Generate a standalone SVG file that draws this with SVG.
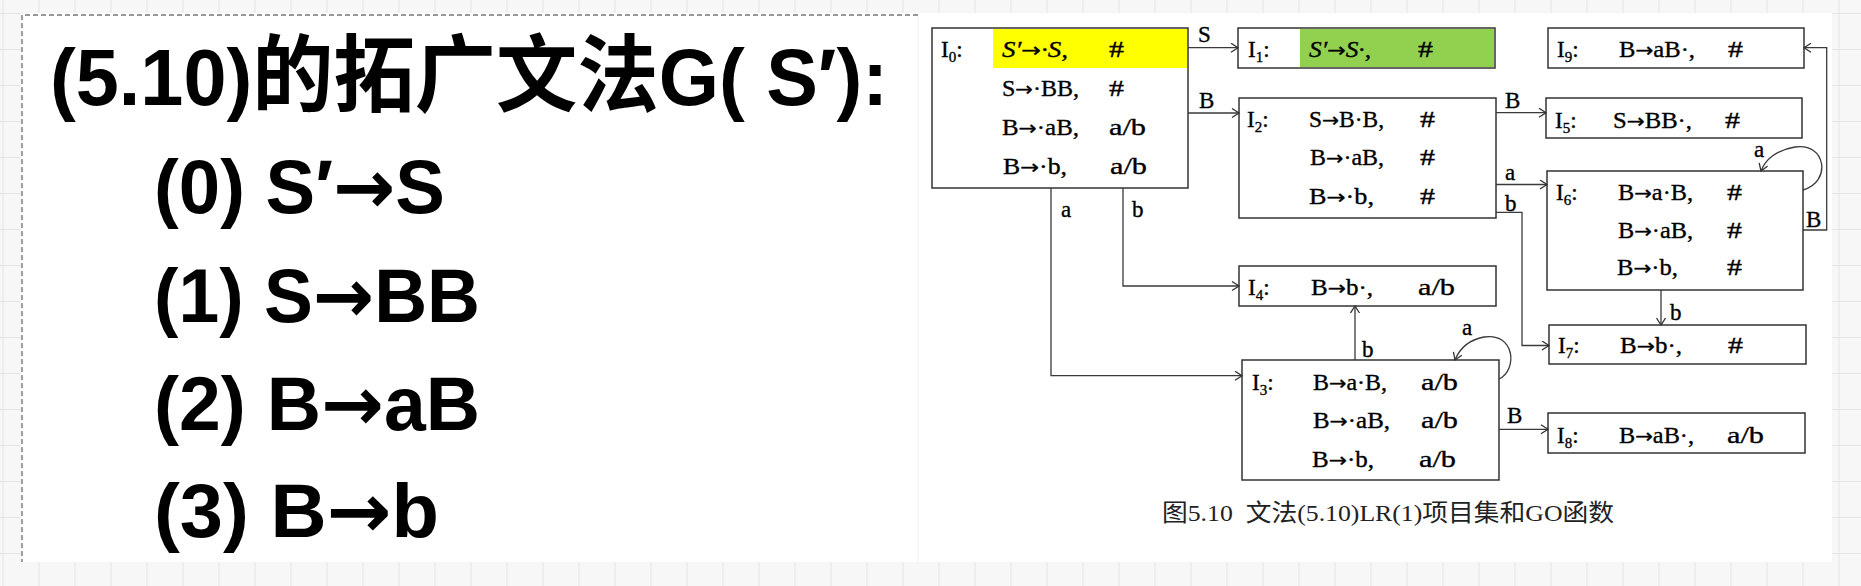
<svg xmlns="http://www.w3.org/2000/svg" width="1861" height="586" viewBox="0 0 1861 586">
<defs>
<pattern id="grid" patternUnits="userSpaceOnUse" x="2.5" y="13" width="36" height="36">
<rect width="36" height="36" fill="#f7f7f7"/>
<path d="M0,0.5 H36 M0.5,0 V36" stroke="#e4e4e4" stroke-width="1" fill="none"/>
</pattern>
<marker id="ah" markerUnits="userSpaceOnUse" markerWidth="12" markerHeight="12" refX="8" refY="5" orient="auto">
<path d="M1,0.5 L8,5 L1,9.5" fill="none" stroke="#333" stroke-width="1.3"/>
</marker>
<style>
.box{fill:#fff;stroke:#333;stroke-width:1.5}
.t{font-family:"Liberation Serif",serif;font-size:23px;fill:#000;stroke:#000;stroke-width:0.35}
.it{font-style:italic}
.a2{font-family:"DejaVu Sans",sans-serif;font-size:20px;font-style:normal}
.c{fill:none;stroke:#3a3a3a;stroke-width:1.3}
.big{font-family:"Liberation Sans","Noto Sans CJK SC",sans-serif;font-weight:bold;fill:#000}
.ar{font-family:"DejaVu Sans",sans-serif;font-weight:bold}
.sub{font-size:15px}
</style>
</defs>
<rect width="1861" height="586" fill="url(#grid)"/>
<rect x="21" y="13" width="1811" height="549" fill="#fff"/>
<line x1="918" y1="13" x2="918" y2="562" stroke="#f0f0f0" stroke-width="1"/>
<path d="M918,15 H22 V562" fill="none" stroke="#777" stroke-width="1.4" stroke-dasharray="5 3"/>

<g id="grammar">
<text class="big" x="50" y="105" font-size="80" textLength="838" lengthAdjust="spacingAndGlyphs">(5.10)<tspan font-family="'Noto Sans CJK SC',sans-serif" font-size="84">的拓广文法</tspan>G( S′):</text>
<text class="big" x="154" y="213" font-size="76" textLength="291" lengthAdjust="spacingAndGlyphs">(0) S′<tspan class="ar">→</tspan>S</text>
<text class="big" x="154" y="322" font-size="76" textLength="326" lengthAdjust="spacingAndGlyphs">(1) S<tspan class="ar">→</tspan>BB</text>
<text class="big" x="154" y="430" font-size="76" textLength="326" lengthAdjust="spacingAndGlyphs">(2) B<tspan class="ar">→</tspan>aB</text>
<text class="big" x="154" y="537" font-size="76" textLength="285" lengthAdjust="spacingAndGlyphs">(3) B<tspan class="ar">→</tspan>b</text>
</g>

<g id="I0">
<rect class="box" x="932" y="28" width="256" height="160"/>
<rect x="993" y="29" width="194" height="39" fill="#ffff00"/>
<text class="t" x="941" y="57">I<tspan class="sub" dy="5">0</tspan><tspan dy="-5">:</tspan></text>
<text class="t it" x="1002" y="57" textLength="66" lengthAdjust="spacingAndGlyphs">S′<tspan class="a2">→</tspan>·S,</text><text class="t" x="1109" y="57" textLength="15" lengthAdjust="spacingAndGlyphs">#</text>
<text class="t" x="1002" y="96" textLength="77" lengthAdjust="spacingAndGlyphs">S<tspan class="a2">→</tspan>·BB,</text><text class="t" x="1109" y="96" textLength="15" lengthAdjust="spacingAndGlyphs">#</text>
<text class="t" x="1002" y="135" textLength="77" lengthAdjust="spacingAndGlyphs">B<tspan class="a2">→</tspan>·aB,</text><text class="t" x="1109" y="135" textLength="37" lengthAdjust="spacingAndGlyphs">a/b</text>
<text class="t" x="1003" y="174" textLength="64" lengthAdjust="spacingAndGlyphs">B<tspan class="a2">→</tspan>·b,</text><text class="t" x="1110" y="174" textLength="37" lengthAdjust="spacingAndGlyphs">a/b</text>
</g>

<g id="I1">
<rect class="box" x="1238" y="28" width="257" height="40"/>
<rect x="1300" y="29" width="194" height="38" fill="#92d050"/>
<text class="t" x="1248" y="57">I<tspan class="sub" dy="5">1</tspan><tspan dy="-5">:</tspan></text>
<text class="t it" x="1309" y="57" textLength="62" lengthAdjust="spacingAndGlyphs">S′<tspan class="a2">→</tspan>S·,</text><text class="t" x="1418" y="57" textLength="15" lengthAdjust="spacingAndGlyphs">#</text>
</g>

<g id="I2">
<rect class="box" x="1239" y="98" width="257" height="120"/>
<text class="t" x="1247" y="127">I<tspan class="sub" dy="5">2</tspan><tspan dy="-5">:</tspan></text>
<text class="t" x="1309" y="127" textLength="75" lengthAdjust="spacingAndGlyphs">S<tspan class="a2">→</tspan>B·B,</text><text class="t" x="1420" y="127" textLength="15" lengthAdjust="spacingAndGlyphs">#</text>
<text class="t" x="1310" y="165" textLength="74" lengthAdjust="spacingAndGlyphs">B<tspan class="a2">→</tspan>·aB,</text><text class="t" x="1420" y="165" textLength="15" lengthAdjust="spacingAndGlyphs">#</text>
<text class="t" x="1309" y="204" textLength="65" lengthAdjust="spacingAndGlyphs">B<tspan class="a2">→</tspan>·b,</text><text class="t" x="1420" y="204" textLength="15" lengthAdjust="spacingAndGlyphs">#</text>
</g>

<g id="I4">
<rect class="box" x="1239" y="266" width="257" height="40"/>
<text class="t" x="1248" y="295">I<tspan class="sub" dy="5">4</tspan><tspan dy="-5">:</tspan></text>
<text class="t" x="1311" y="295" textLength="62" lengthAdjust="spacingAndGlyphs">B<tspan class="a2">→</tspan>b·,</text><text class="t" x="1418" y="295" textLength="37" lengthAdjust="spacingAndGlyphs">a/b</text>
</g>

<g id="I3">
<rect class="box" x="1242" y="360" width="257" height="120"/>
<text class="t" x="1252" y="390">I<tspan class="sub" dy="5">3</tspan><tspan dy="-5">:</tspan></text>
<text class="t" x="1313" y="390" textLength="74" lengthAdjust="spacingAndGlyphs">B<tspan class="a2">→</tspan>a·B,</text><text class="t" x="1421" y="390" textLength="37" lengthAdjust="spacingAndGlyphs">a/b</text>
<text class="t" x="1313" y="428" textLength="77" lengthAdjust="spacingAndGlyphs">B<tspan class="a2">→</tspan>·aB,</text><text class="t" x="1421" y="428" textLength="37" lengthAdjust="spacingAndGlyphs">a/b</text>
<text class="t" x="1312" y="467" textLength="62" lengthAdjust="spacingAndGlyphs">B<tspan class="a2">→</tspan>·b,</text><text class="t" x="1419" y="467" textLength="37" lengthAdjust="spacingAndGlyphs">a/b</text>
</g>

<g id="I9">
<rect class="box" x="1548" y="28" width="256" height="40"/>
<text class="t" x="1557" y="57">I<tspan class="sub" dy="5">9</tspan><tspan dy="-5">:</tspan></text>
<text class="t" x="1619" y="57" textLength="76" lengthAdjust="spacingAndGlyphs">B<tspan class="a2">→</tspan>aB·,</text><text class="t" x="1728" y="57" textLength="15" lengthAdjust="spacingAndGlyphs">#</text>
</g>

<g id="I5">
<rect class="box" x="1546" y="98" width="256" height="40"/>
<text class="t" x="1555" y="128">I<tspan class="sub" dy="5">5</tspan><tspan dy="-5">:</tspan></text>
<text class="t" x="1613" y="128" textLength="79" lengthAdjust="spacingAndGlyphs">S<tspan class="a2">→</tspan>BB·,</text><text class="t" x="1725" y="128" textLength="15" lengthAdjust="spacingAndGlyphs">#</text>
</g>

<g id="I6">
<rect class="box" x="1547" y="171" width="256" height="119"/>
<text class="t" x="1556" y="200">I<tspan class="sub" dy="5">6</tspan><tspan dy="-5">:</tspan></text>
<text class="t" x="1618" y="200" textLength="75" lengthAdjust="spacingAndGlyphs">B<tspan class="a2">→</tspan>a·B,</text><text class="t" x="1727" y="200" textLength="15" lengthAdjust="spacingAndGlyphs">#</text>
<text class="t" x="1618" y="238" textLength="75" lengthAdjust="spacingAndGlyphs">B<tspan class="a2">→</tspan>·aB,</text><text class="t" x="1727" y="238" textLength="15" lengthAdjust="spacingAndGlyphs">#</text>
<text class="t" x="1617" y="275" textLength="61" lengthAdjust="spacingAndGlyphs">B<tspan class="a2">→</tspan>·b,</text><text class="t" x="1727" y="275" textLength="15" lengthAdjust="spacingAndGlyphs">#</text>
</g>

<g id="I7">
<rect class="box" x="1549" y="325" width="257" height="39"/>
<text class="t" x="1558" y="353">I<tspan class="sub" dy="5">7</tspan><tspan dy="-5">:</tspan></text>
<text class="t" x="1620" y="353" textLength="62" lengthAdjust="spacingAndGlyphs">B<tspan class="a2">→</tspan>b·,</text><text class="t" x="1728" y="353" textLength="15" lengthAdjust="spacingAndGlyphs">#</text>
</g>

<g id="I8">
<rect class="box" x="1548" y="413" width="257" height="40"/>
<text class="t" x="1557" y="443">I<tspan class="sub" dy="5">8</tspan><tspan dy="-5">:</tspan></text>
<text class="t" x="1619" y="443" textLength="75" lengthAdjust="spacingAndGlyphs">B<tspan class="a2">→</tspan>aB·,</text><text class="t" x="1727" y="443" textLength="37" lengthAdjust="spacingAndGlyphs">a/b</text>
</g>

<g id="connectors">
<path class="c" d="M1188,47.7 H1238" marker-end="url(#ah)"/>
<path class="c" d="M1188,113 H1239" marker-end="url(#ah)"/>
<path class="c" d="M1051,188 V375.7 H1242" marker-end="url(#ah)"/>
<path class="c" d="M1123,188 V286 H1239" marker-end="url(#ah)"/>
<path class="c" d="M1496,112.7 H1546" marker-end="url(#ah)"/>
<path class="c" d="M1496,184.5 H1547" marker-end="url(#ah)"/>
<path class="c" d="M1496,212.3 H1522 V345.5 H1549" marker-end="url(#ah)"/>
<path class="c" d="M1803,190 C1832,182 1826,142 1795,147 C1776,150 1765,160 1761,171" marker-end="url(#ah)"/>
<path class="c" d="M1803,230 H1826.7 V47.7 H1804" marker-end="url(#ah)"/>
<path class="c" d="M1661,290 V325" marker-end="url(#ah)"/>
<path class="c" d="M1355,360 V306" marker-end="url(#ah)"/>
<path class="c" d="M1499,379 C1518,370 1515,332 1484,337 C1468,340 1459,350 1455,360" marker-end="url(#ah)"/>
<path class="c" d="M1499,429.3 H1548" marker-end="url(#ah)"/>
<text class="t" x="1198" y="42">S</text>
<text class="t" x="1199" y="108">B</text>
<text class="t" x="1061" y="217">a</text>
<text class="t" x="1132" y="217">b</text>
<text class="t" x="1505" y="108">B</text>
<text class="t" x="1505" y="180">a</text>
<text class="t" x="1505" y="211">b</text>
<text class="t" x="1754" y="157">a</text>
<text class="t" x="1806" y="227">B</text>
<text class="t" x="1670" y="320">b</text>
<text class="t" x="1362" y="357">b</text>
<text class="t" x="1462" y="335">a</text>
<text class="t" x="1507" y="423">B</text>
</g>

<text x="1162" y="521" font-family="'Liberation Serif','Noto Sans CJK SC',serif" font-size="24" fill="#222" textLength="452" lengthAdjust="spacingAndGlyphs" xml:space="preserve">图5.10  文法(5.10)LR(1)项目集和GO函数</text>
</svg>
